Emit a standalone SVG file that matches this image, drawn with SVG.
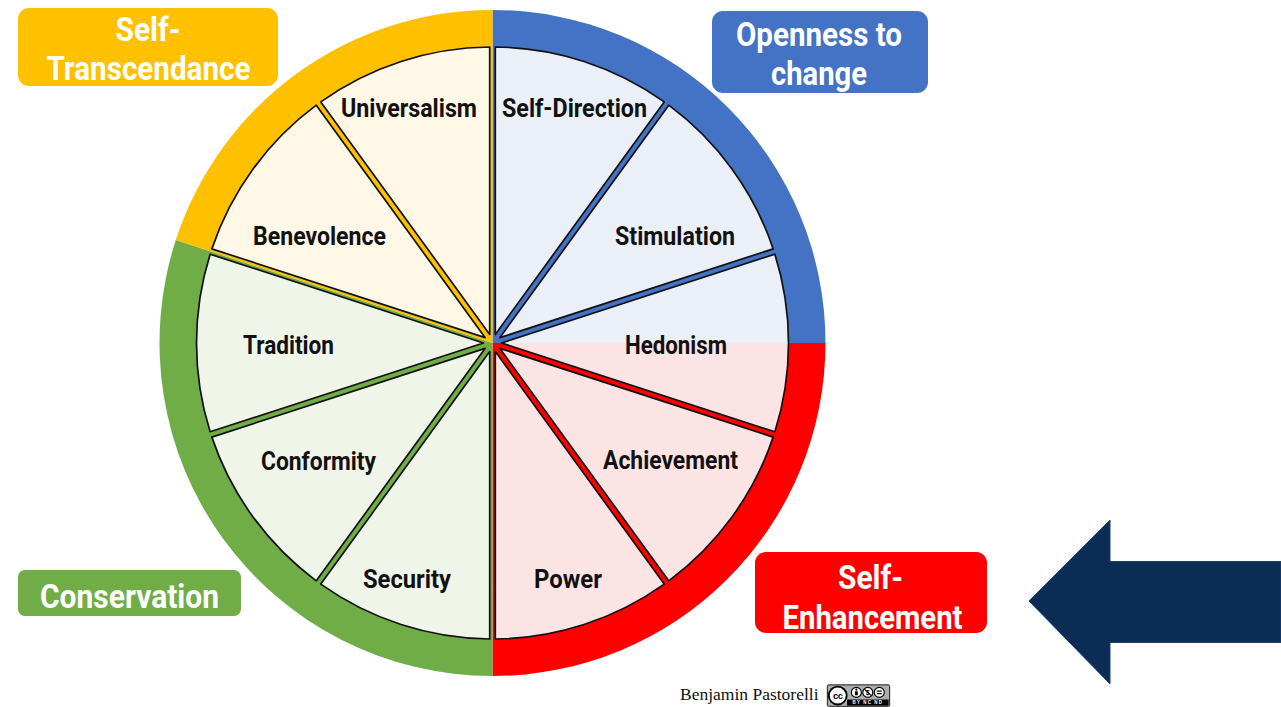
<svg xmlns="http://www.w3.org/2000/svg" width="1281" height="707" viewBox="0 0 1281 707">
  <style>
    .wedge { stroke: #111; stroke-width: 1.7; stroke-linejoin: round; }
    .outline { fill: none; stroke: #111; stroke-width: 1.7; stroke-linejoin: round; }
    .f-yellow { fill: #FFF8E6; }
    .f-blue { fill: #EAEFF8; }
    .f-red { fill: #FDE4E4; }
    .f-green { fill: #F0F5EA; }
    .label { font-family: Roboto, "Liberation Sans", sans-serif; font-weight: 700; font-size: 25.5px; fill: #111; text-anchor: middle; }
    .head { font-family: Roboto, "Liberation Sans", sans-serif; font-weight: 700; font-size: 33px; fill: #fff; text-anchor: middle; }
    .credit { font-family: "Liberation Serif", "Times New Roman", serif; font-size: 17.5px; fill: #111; }
  </style>
  <rect width="1281" height="707" fill="#fff"/>

  <!-- outer ring: four coloured sectors, visible as the band and through the gaps between slices -->
  <g id="ring">
    <path d="M492.5 343 L492.5 10 A333 333 0 0 1 825.5 343 Z" fill="#4472C4"/>
    <path d="M492.5 343 L825.5 343 A333 333 0 0 1 492.5 676 Z" fill="#FF0000"/>
    <path d="M492.5 343 L492.5 676 A333 333 0 0 1 175.8 240.1 Z" fill="#70AD47"/>
    <path d="M492.5 343 L175.8 240.1 A333 333 0 0 1 492.5 10 Z" fill="#FFC000"/>
  </g>

  <!-- ten value slices -->
  <g id="self-direction">
    <path class="wedge f-blue" d="M495.30 334.38 L495.30 47.01 A296 296 0 0 1 664.21 101.89 Z"/>
    <text class="label" x="574.5" y="117" textLength="145" lengthAdjust="spacingAndGlyphs">Self-Direction</text>
  </g>
  <g id="stimulation">
    <path class="wedge f-blue" d="M499.83 337.67 L668.74 105.19 A296 296 0 0 1 773.14 248.87 Z"/>
    <text class="label" x="675" y="245" textLength="120" lengthAdjust="spacingAndGlyphs">Stimulation</text>
  </g>
  <g id="hedonism">
    <path class="f-blue" d="M501.56 343 L774.87 254.19 A296 296 0 0 1 788.5 343 Z"/>
    <path class="f-red" d="M501.56 343 L788.5 343 A296 296 0 0 1 774.87 431.81 Z"/>
    <path class="outline" d="M501.56 343 L774.87 254.19 A296 296 0 0 1 774.87 431.81 Z"/>
    <text class="label" x="676" y="354" textLength="102" lengthAdjust="spacingAndGlyphs">Hedonism</text>
  </g>
  <g id="achievement">
    <path class="wedge f-red" d="M499.83 348.33 L773.14 437.13 A296 296 0 0 1 668.74 580.81 Z"/>
    <text class="label" x="670.5" y="469" textLength="135" lengthAdjust="spacingAndGlyphs">Achievement</text>
  </g>
  <g id="power">
    <path class="wedge f-red" d="M495.30 351.62 L664.21 584.11 A296 296 0 0 1 495.30 638.99 Z"/>
    <text class="label" x="568" y="588" textLength="68" lengthAdjust="spacingAndGlyphs">Power</text>
  </g>
  <g id="security">
    <path class="wedge f-green" d="M489.70 351.62 L489.70 638.99 A296 296 0 0 1 320.79 584.11 Z"/>
    <text class="label" x="407" y="588" textLength="88" lengthAdjust="spacingAndGlyphs">Security</text>
  </g>
  <g id="conformity">
    <path class="wedge f-green" d="M485.17 348.33 L316.25 580.81 A296 296 0 0 1 211.87 437.13 Z"/>
    <text class="label" x="318.5" y="470" textLength="115" lengthAdjust="spacingAndGlyphs">Conformity</text>
  </g>
  <g id="tradition">
    <path class="wedge f-green" d="M483.44 343 L210.14 431.81 A296 296 0 0 1 210.14 254.19 Z"/>
    <text class="label" x="288.5" y="354" textLength="91" lengthAdjust="spacingAndGlyphs">Tradition</text>
  </g>
  <g id="benevolence">
    <path class="wedge f-yellow" d="M485.17 337.67 L211.87 248.87 A296 296 0 0 1 316.25 105.19 Z"/>
    <text class="label" x="319.5" y="245" textLength="133" lengthAdjust="spacingAndGlyphs">Benevolence</text>
  </g>
  <g id="universalism">
    <path class="wedge f-yellow" d="M489.70 334.38 L320.79 101.89 A296 296 0 0 1 489.70 47.01 Z"/>
    <text class="label" x="409" y="117" textLength="136" lengthAdjust="spacingAndGlyphs">Universalism</text>
  </g>

  <!-- higher-order value boxes -->
  <g id="self-transcendance">
    <rect x="18" y="8" width="260" height="78" rx="11" fill="#FFC000"/>
    <text class="head" x="148" y="41" textLength="65" lengthAdjust="spacingAndGlyphs">Self-</text>
    <text class="head" x="148.5" y="80" textLength="204" lengthAdjust="spacingAndGlyphs">Transcendance</text>
  </g>
  <g id="openness-to-change">
    <rect x="712" y="11" width="216" height="82" rx="11" fill="#4472C4"/>
    <text class="head" x="819" y="46" textLength="166" lengthAdjust="spacingAndGlyphs">Openness to</text>
    <text class="head" x="819" y="85" textLength="96" lengthAdjust="spacingAndGlyphs">change</text>
  </g>
  <g id="self-enhancement">
    <rect x="755" y="552" width="232" height="81" rx="11" fill="#FF0000"/>
    <text class="head" x="870.5" y="589" textLength="65" lengthAdjust="spacingAndGlyphs">Self-</text>
    <text class="head" x="872.5" y="629" textLength="180" lengthAdjust="spacingAndGlyphs">Enhancement</text>
  </g>
  <g id="conservation">
    <rect x="18" y="570" width="223" height="46" rx="7" fill="#70AD47"/>
    <text class="head" x="129.5" y="608" textLength="179" lengthAdjust="spacingAndGlyphs">Conservation</text>
  </g>

  <!-- pointer arrow at the right edge -->
  <g id="connectors">
    <polygon points="1029,601 1110,520 1110,561.5 1281,561.5 1281,642.5 1110,642.5 1110,684" fill="#0B2D55" stroke="#1E4272" stroke-width="1"/>
  </g>

  <!-- author credit and licence badge -->
  <g id="credit">
    <text class="credit" x="680" y="700">Benjamin Pastorelli</text>
    <g transform="translate(827 684.5) scale(0.716)">
      <rect x="0.5" y="0.5" width="87" height="30" rx="2" fill="#ABB1AA" stroke="#000" stroke-width="1.2"/>
      <rect x="28" y="21" width="58" height="8.5" fill="#000"/>
      <text x="57" y="27.6" font-family="'Liberation Sans', sans-serif" font-size="6.2" font-weight="700" fill="#fff" text-anchor="middle" letter-spacing="1.6">BY NC ND</text>
      <circle cx="15" cy="15.5" r="12.5" fill="#fff" stroke="#000" stroke-width="2.6"/>
      <text x="15" y="20" font-family="'Liberation Sans', sans-serif" font-size="13" font-weight="700" fill="#000" text-anchor="middle" letter-spacing="-0.6">cc</text>
      <circle cx="41" cy="11" r="7" fill="#fff" stroke="#000" stroke-width="1.6"/>
      <circle cx="41" cy="7.2" r="1.5" fill="#000"/>
      <rect x="39" y="9.5" width="4" height="5.5" rx="0.8" fill="#000"/>
      <circle cx="57" cy="11" r="7" fill="#fff" stroke="#000" stroke-width="1.6"/>
      <text x="57" y="14.6" font-family="'Liberation Sans', sans-serif" font-size="10" font-weight="700" fill="#000" text-anchor="middle">$</text>
      <line x1="52.2" y1="6.4" x2="61.8" y2="15.6" stroke="#000" stroke-width="1.4"/>
      <circle cx="73" cy="11" r="7" fill="#fff" stroke="#000" stroke-width="1.6"/>
      <rect x="69.5" y="8.4" width="7" height="1.7" fill="#000"/>
      <rect x="69.5" y="11.9" width="7" height="1.7" fill="#000"/>
    </g>
  </g>
</svg>
